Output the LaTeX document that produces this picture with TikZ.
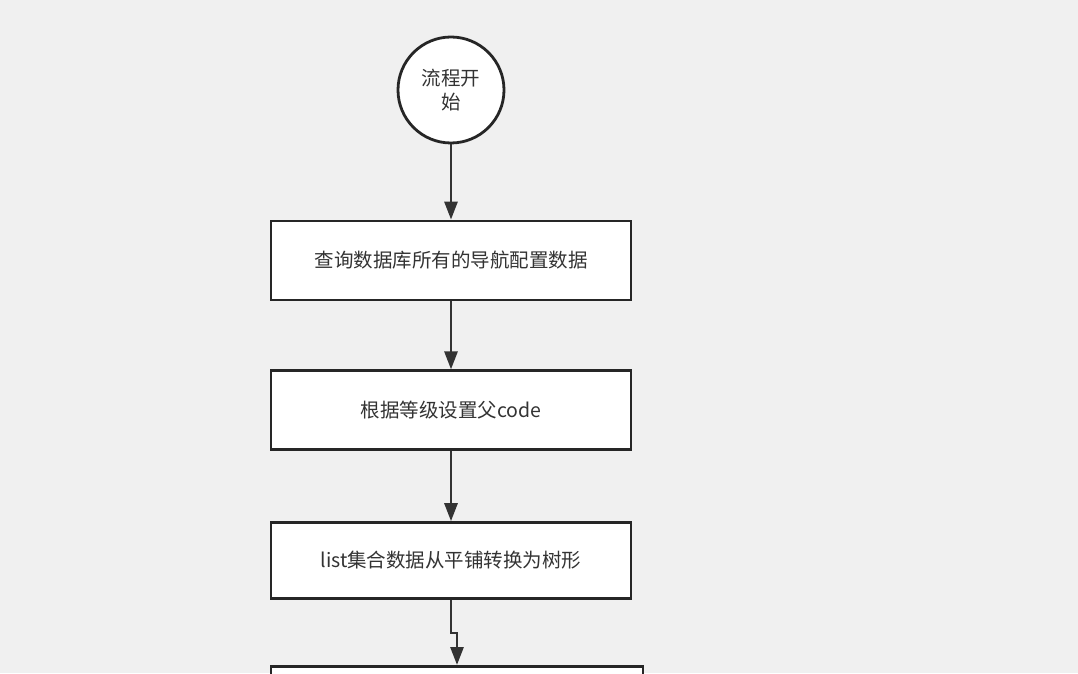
\documentclass[tikz,border=0pt]{standalone}
\usepackage{fontspec}
\setmainfont{Noto Sans CJK SC}
\usetikzlibrary{positioning,arrows.meta}
\tikzset{
  stepbox/.style={rectangle, draw=black!85, fill=white, line width=2.8pt, minimum width=360pt, minimum height=79pt, inner sep=0pt, text centered, font=\fontsize{19.5}{24}\selectfont, text=black!80},
  startnode/.style={circle, draw=black!85, fill=white, line width=2.8pt, minimum size=106pt, inner sep=0pt, text width=64pt, align=center, font=\fontsize{19.5}{24}\selectfont, text=black!80},
  flow/.style={-{Triangle[length=18pt,width=13pt]}, line width=2.8pt, draw=black!80}
}
\begin{document}
\begin{tikzpicture}[x=1pt,y=1pt]
  \fill[black!6] (0,0) rectangle (1078,673);
  \useasboundingbox (0,0) rectangle (1078,673);

  \node (start) [startnode] at (451,583) {流程开\\始};
  \node (query) [stepbox] at (451,412.5) {查询数据库所有的导航配置数据};
  \node (setcode) [stepbox, below=68pt of query] {根据等级设置父code};
  \node (totree) [stepbox, minimum height=76pt, below=70pt of setcode] {list集合数据从平铺转换为树形};
  \node (next) [stepbox, minimum width=372pt, anchor=north] at (457,8) {};

  \draw[flow] (start.south) -- (query.north);
  \draw[flow] (query.south) -- (setcode.north);
  \draw[flow] (setcode.south) -- (totree.north);
  \draw[flow] (totree.south) -- ++(0,-33) -| (next.north);
\end{tikzpicture}
\end{document}
